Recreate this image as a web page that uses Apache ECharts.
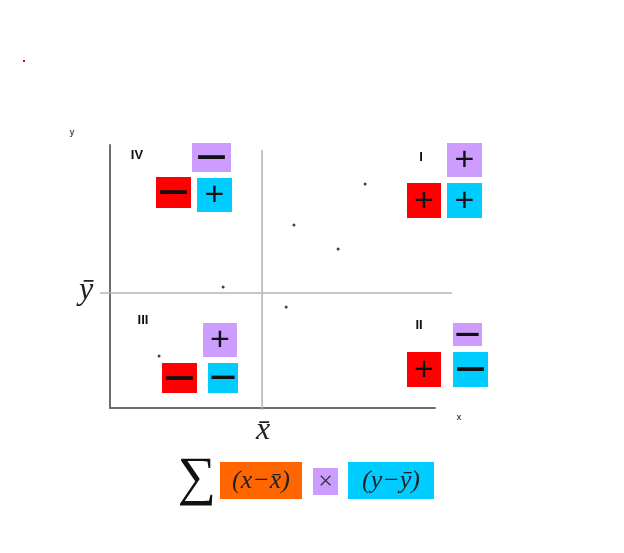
<!DOCTYPE html>
<html>
<head>
<meta charset="utf-8">
<script src="https://cdn.jsdelivr.net/npm/echarts@6/dist/echarts.min.js"></script>
<style>html,body{margin:0;padding:0;background:#fff}#c{width:624px;height:553px}</style>
</head>
<body>
<div id="c"></div>
<script>
// data points (arbitrary units, axes 0..10)
var pointsX = [7.85, 5.66, 7.02, 3.48, 5.42, 1.51];
var pointsY = [8.52, 6.96, 6.05, 4.60, 3.84, 1.98];
var meanX = 4.68;
var meanY = 4.37;
var quadrantLabels = ['I', 'II', 'III', 'IV'];

var chart = echarts.init(document.getElementById('c'));
var PURPLE = '#CC9CFF', RED = '#FF0000', CYAN = '#00CCFF', ORANGE = '#FF6600';
var signFont = '"Liberation Sans", Arial, sans-serif';

function box(x, y, w, h, fill, sign) {
  var els = [{type: 'rect', shape: {x: x, y: y, width: w, height: h}, style: {fill: fill}, z: 10}];
  if (sign === '+') {
    els.push({type: 'text', x: x + w / 2, y: y + h / 2 + 1, z: 11,
      style: {text: '+', fill: '#111', font: '34px ' + signFont, textAlign: 'center', textVerticalAlign: 'middle'}});
  } else {
    els.push({type: 'text', x: x + w / 2, y: y + h / 2, z: 11,
      style: {text: '—', fill: '#111', font: 'bold ' + Math.round(Math.min(w - 4, 30)) + 'px "DejaVu Sans", sans-serif', textAlign: 'center', textVerticalAlign: 'middle'}});
  }
  return els;
}
function label(t, x, y, font, fill, align) {
  return {type: 'text', x: x, y: y, z: 12, style: {text: t, font: font, fill: fill || '#111', textAlign: align || 'center', textVerticalAlign: 'middle'}};
}

var g = [];
g = g.concat(box(192, 143, 39, 29, PURPLE, '-'), box(156, 177, 35, 31, RED, '-'), box(197, 178, 35, 34, CYAN, '+'));
g = g.concat(box(447, 143, 35, 34, PURPLE, '+'), box(407, 183, 34, 35, RED, '+'), box(447, 183, 35, 35, CYAN, '+'));
g = g.concat(box(203, 323, 34, 34, PURPLE, '+'), box(162, 363, 35, 30, RED, '-'), box(208, 363, 30, 30, CYAN, '-'));
g = g.concat(box(453, 323, 29, 23, PURPLE, '-'), box(407, 352, 34, 35, RED, '+'), box(453, 352, 35, 35, CYAN, '-'));

var qFont = 'bold 13px "Liberation Sans", Arial, sans-serif';
g.push(label(quadrantLabels[0], 421, 157, qFont));
g.push(label(quadrantLabels[1], 419, 325, qFont));
g.push(label(quadrantLabels[2], 143, 320, qFont));
g.push(label(quadrantLabels[3], 137, 155, qFont));

g.push(label('y', 72, 133, 'bold 9px "Liberation Sans", Arial, sans-serif', '#555'));
g.push(label('x', 459, 418, 'bold 9px "Liberation Sans", Arial, sans-serif', '#555'));

var serif = '"Liberation Serif", "DejaVu Serif", serif';
g.push(label('y\u0304', 86, 291, 'italic 32px ' + serif, '#222'));
g.push(label('x\u0304', 263, 431, 'italic 32px ' + serif, '#222'));

g.push(label('\u2211', 197, 480, '54px ' + serif, '#111'));
g.push({type: 'rect', shape: {x: 220, y: 462, width: 82, height: 37}, style: {fill: ORANGE}, z: 10});
g.push(label('(x\u2212x\u0304)', 261, 481, 'italic 26px ' + serif, '#222'));
g.push({type: 'rect', shape: {x: 313, y: 468, width: 25, height: 27}, style: {fill: PURPLE}, z: 10});
g.push(label('\u00d7', 325.5, 482, '26px ' + serif, '#333'));
g.push({type: 'rect', shape: {x: 348, y: 462, width: 86, height: 37}, style: {fill: CYAN}, z: 10});
g.push(label('(y\u2212y\u0304)', 391, 481, 'italic 26px ' + serif, '#222'));

g.push({type: 'rect', shape: {x: 23, y: 60, width: 2, height: 2}, style: {fill: '#d00'}});

var pts = pointsX.map(function (x, i) { return [x, pointsY[i]]; });

chart.setOption({
  animation: false,
  grid: {left: 110, right: 189, top: 145, bottom: 145},
  xAxis: {type: 'value', min: 0, max: 10, axisLine: {show: true, onZero: false, lineStyle: {color: '#6e6e6e', width: 2}},
    axisTick: {show: false}, axisLabel: {show: false}, splitLine: {show: false}},
  yAxis: {type: 'value', min: 0, max: 10, axisLine: {show: true, onZero: false, lineStyle: {color: '#6e6e6e', width: 2}},
    axisTick: {show: false}, axisLabel: {show: false}, splitLine: {show: false}},
  series: [
    {type: 'scatter', data: pts, symbolSize: 3, itemStyle: {color: '#111'}, z: 5}
  ],
  graphic: g
});

// mean lines, positioned through the chart's own scales
var h1 = chart.convertToPixel({gridIndex: 0}, [-0.31, meanY]);
var h2 = chart.convertToPixel({gridIndex: 0}, [10.52, meanY]);
var v1 = chart.convertToPixel({gridIndex: 0}, [meanX, -0.08]);
var v2 = chart.convertToPixel({gridIndex: 0}, [meanX, 9.81]);
chart.setOption({graphic: g.concat([
  {type: 'line', z: 1, shape: {x1: h1[0], y1: h1[1], x2: h2[0], y2: h2[1]}, style: {stroke: '#b4b4b4', lineWidth: 1.5}},
  {type: 'line', z: 1, shape: {x1: v1[0], y1: v1[1], x2: v2[0], y2: v2[1]}, style: {stroke: '#b4b4b4', lineWidth: 1.5}}
])});
</script>
</body>
</html>
